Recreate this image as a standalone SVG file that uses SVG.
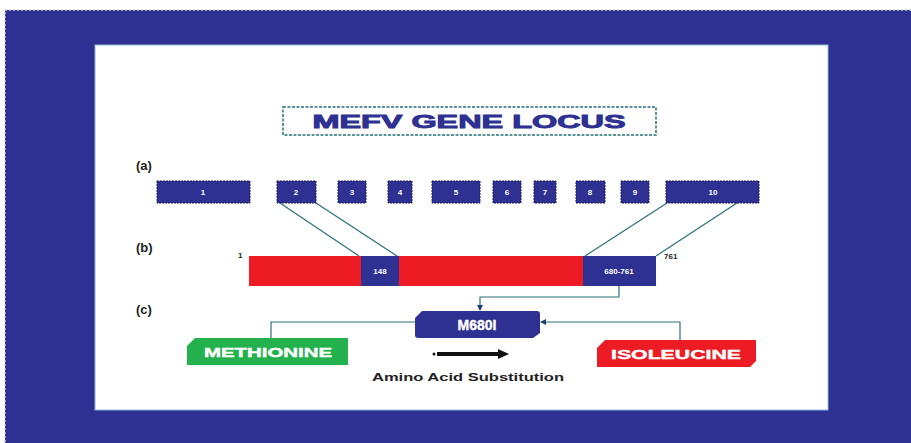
<svg xmlns="http://www.w3.org/2000/svg" width="911" height="443" viewBox="0 0 911 443">
<defs>
<style>
.exon{fill:#2e3192;stroke:#1a1d5e;stroke-width:1;stroke-dasharray:2 1}
.exl{font-family:"Liberation Sans",Arial,sans-serif;font-weight:bold;font-size:8px;fill:#ffffff;text-anchor:middle}
.lbl{font-family:"Liberation Sans",Arial,sans-serif;font-weight:bold;font-size:13px;fill:#222222}
.small{font-family:"Liberation Sans",Arial,sans-serif;font-weight:bold;font-size:8px;fill:#222222}
.conn{fill:none;stroke:#2a6f7a;stroke-width:1.2}
.tag{font-family:"Liberation Sans",Arial,sans-serif;font-weight:bold;fill:#ffffff;text-anchor:middle;stroke:#ffffff;stroke-width:0.4}
</style>
<marker id="ah" markerWidth="6" markerHeight="6" refX="5" refY="3" orient="auto" markerUnits="userSpaceOnUse">
<path d="M0,0 L6,3 L0,6 Z" fill="#1f3f6e"/>
</marker>
</defs>
<rect x="0" y="0" width="911" height="443" fill="#ffffff"/>
<rect x="5" y="10" width="910" height="440" fill="#2e3192" stroke="#c8cbe8" stroke-width="1.5" stroke-dasharray="2 2"/>
<rect x="95" y="45" width="733" height="365" fill="#ffffff" stroke="#8fb8d8" stroke-width="1"/>

<g id="title">
<rect x="283" y="107" width="373" height="28" fill="#ffffff" stroke="#2a6f7a" stroke-width="1.5" stroke-dasharray="3 1.5"/>
<text x="469" y="128" font-family="'Liberation Sans',Arial,sans-serif" font-weight="bold" font-size="18" fill="#2e3192" stroke="#2e3192" stroke-width="0.9" text-anchor="middle" textLength="313" lengthAdjust="spacingAndGlyphs">MEFV GENE LOCUS</text>
</g>

<g id="labels">
<text class="lbl" x="136" y="170">(a)</text>
<text class="lbl" x="136" y="252">(b)</text>
<text class="lbl" x="136" y="314">(c)</text>
</g>

<g id="connectors">
<line class="conn" x1="280" y1="203" x2="359" y2="256"/>
<line class="conn" x1="316" y1="203" x2="397" y2="256"/>
<line class="conn" x1="667" y1="203" x2="585" y2="256"/>
<line class="conn" x1="737" y1="203" x2="656" y2="256"/>
<path class="conn" d="M619,286 V297 H480 V310" marker-end="url(#ah)"/>
<path class="conn" d="M415,322 H271 V338"/>
<path class="conn" d="M680,340 V322 H541" marker-end="url(#ah)"/>
</g>

<g id="exon1"><rect class="exon" x="157" y="181" width="93" height="22"/><text class="exl" x="203" y="195">1</text></g>
<g id="exon2"><rect class="exon" x="277" y="181" width="39" height="22"/><text class="exl" x="296" y="195">2</text></g>
<g id="exon3"><rect class="exon" x="338" y="181" width="28" height="22"/><text class="exl" x="352" y="195">3</text></g>
<g id="exon4"><rect class="exon" x="388" y="181" width="24" height="22"/><text class="exl" x="400" y="195">4</text></g>
<g id="exon5"><rect class="exon" x="432" y="181" width="48" height="22"/><text class="exl" x="456" y="195">5</text></g>
<g id="exon6"><rect class="exon" x="493" y="181" width="28" height="22"/><text class="exl" x="507" y="195">6</text></g>
<g id="exon7"><rect class="exon" x="534" y="181" width="22" height="22"/><text class="exl" x="545" y="195">7</text></g>
<g id="exon8"><rect class="exon" x="576" y="181" width="29" height="22"/><text class="exl" x="590" y="195">8</text></g>
<g id="exon9"><rect class="exon" x="621" y="181" width="28" height="22"/><text class="exl" x="635" y="195">9</text></g>
<g id="exon10"><rect class="exon" x="666" y="181" width="93" height="22"/><text class="exl" x="713" y="195">10</text></g>

<g id="protein">
<rect x="249" y="256" width="407" height="30" fill="#ed1c24"/>
<text class="small" x="238" y="258">1</text>
<text class="small" x="664" y="259">761</text>
</g>
<g id="domain148">
<rect x="361" y="256" width="38" height="30" fill="#2e3192"/>
<text class="exl" x="380" y="274">148</text>
</g>
<g id="domain680">
<rect x="583" y="256" width="73" height="30" fill="#2e3192"/>
<text class="exl" x="619" y="274">680-761</text>
</g>

<g id="m680i">
<path d="M422,311 H537 Q540,311 540,314 V333 L533,338 H418 Q415,338 415,335 V318 Z" fill="#2e3192"/>
<text class="tag" x="477" y="330" font-size="14">M680I</text>
</g>
<g id="methionine">
<path d="M195,338 H348 V365 H187 V346 Z" fill="#22b14c"/>
<text class="tag" x="268" y="357" font-size="13" textLength="128" lengthAdjust="spacingAndGlyphs">METHIONINE</text>
</g>
<g id="isoleucine">
<path d="M605,340 H756 V361 L750,367 H597 V348 Z" fill="#ed1c24"/>
<text class="tag" x="676" y="359" font-size="13" textLength="130" lengthAdjust="spacingAndGlyphs">ISOLEUCINE</text>
</g>

<g id="substitution">
<circle cx="434" cy="354" r="1.5" fill="#111111"/>
<line x1="437" y1="354" x2="500" y2="354" stroke="#111111" stroke-width="4"/>
<path d="M498,349 L509,354 L498,359 Z" fill="#111111"/>
<text x="468" y="381" font-family="'Liberation Sans',Arial,sans-serif" font-weight="bold" font-size="10" fill="#222222" text-anchor="middle" textLength="192" lengthAdjust="spacingAndGlyphs">Amino Acid Substitution</text>
</g>
</svg>
